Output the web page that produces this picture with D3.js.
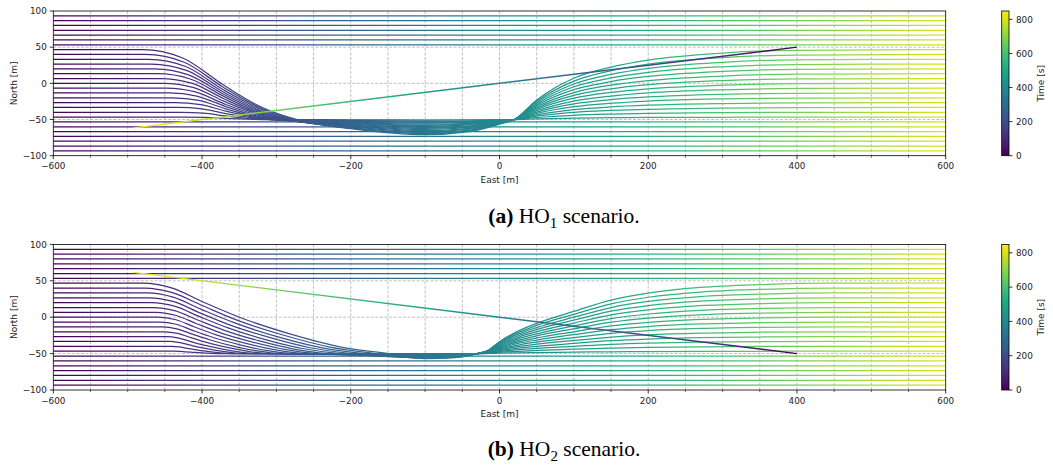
<!DOCTYPE html>
<html><head><meta charset="utf-8">
<script src="https://cdn.jsdelivr.net/npm/d3@7"></script>
<style>body{margin:0;background:#fff}svg{display:block}text{font-family:"DejaVu Sans",sans-serif;fill:#222}</style>
</head><body><svg id="c" width="1053" height="467"></svg>
<script>
// ---------------- data ----------------
const straightLevels = [93.3, 86.7, 80.0, 73.3, 66.7, 60.0, 53.3, -53.3, -60.0, -66.7, -73.3, -80.0, -86.7, -93.3];

// HO1: own-ship trajectories that manoeuvre (East, North) key points
const avoidA = [
 [[-600,46.7],[-480,46.7],[-426,35.1],[-372,-1.7],[-319,-33.6],[-265,-52.1],[-200,-62.6],[-100,-71.0],[-40,-66.8],[0,-56.3],[20,-50],[50,-22.9],[100,7.1],[150,22.5],[200,32.2],[300,41.9],[400,45.7],[600,46.7]],
 [[-600,40],[-476,40],[-424,29.2],[-372,-5],[-320,-34.7],[-268,-52.0],[-200,-61.7],[-100,-69.5],[-40,-65.6],[0,-55.9],[20,-50],[50,-24.8],[100,3.1],[150,17.5],[200,26.5],[300,35.5],[400,39.1],[600,40]],
 [[-600,33.3],[-472,33.3],[-422,23.3],[-372,-8.4],[-321,-35.8],[-271,-51.8],[-200,-60.9],[-100,-68.1],[-40,-64.5],[0,-55.4],[20,-50],[50,-26.7],[100,-0.9],[150,12.5],[200,20.8],[300,29.1],[400,32.5],[600,33.3]],
 [[-600,26.7],[-468,26.7],[-420,17.5],[-372,-11.7],[-323,-37.0],[-275,-51.7],[-200,-60.0],[-100,-66.7],[-40,-63.4],[0,-55.0],[20,-50],[50,-28.5],[100,-4.7],[150,7.5],[200,15.2],[300,22.9],[400,25.9],[600,26.7]],
 [[-600,20],[-464,20],[-418,11.6],[-371,-15],[-324,-38.1],[-278,-51.5],[-200,-59.1],[-100,-65.2],[-40,-62.2],[0,-54.6],[20,-50],[50,-30.4],[100,-8.7],[150,2.5],[200,9.5],[300,16.5],[400,19.3],[600,20]],
 [[-600,13.3],[-460,13.3],[-415,5.7],[-370,-18.4],[-326,-39.2],[-281,-51.4],[-200,-58.2],[-100,-63.7],[-40,-61.0],[0,-54.1],[20,-50],[50,-32.3],[100,-12.7],[150,-2.5],[200,3.8],[300,10.1],[400,12.7],[600,13.3]],
 [[-600,6.7],[-456,6.7],[-413,-0.1],[-370,-21.7],[-327,-40.4],[-284,-51.2],[-200,-57.4],[-100,-62.3],[-40,-59.8],[0,-53.7],[20,-50],[50,-34.1],[100,-16.5],[150,-7.5],[200,-1.8],[300,3.9],[400,6.1],[600,6.7]],
 [[-600,0],[-452,0],[-411,-6],[-370,-25],[-328,-41.5],[-287,-51.1],[-200,-56.5],[-100,-60.9],[-40,-58.7],[0,-53.3],[20,-50],[50,-36],[100,-20.5],[150,-12.5],[200,-7.5],[300,-2.5],[400,-0.5],[600,0]],
 [[-600,-6.7],[-448,-6.7],[-409,-11.9],[-370,-28.4],[-330,-42.6],[-291,-50.9],[-200,-55.6],[-100,-59.4],[-40,-57.5],[0,-52.8],[20,-50],[50,-37.9],[100,-24.5],[150,-17.5],[200,-13.2],[300,-8.9],[400,-7.1],[600,-6.7]],
 [[-600,-13.3],[-444,-13.3],[-407,-17.7],[-369,-31.7],[-332,-43.8],[-294,-50.8],[-200,-54.8],[-100,-58.0],[-40,-56.4],[0,-52.4],[20,-50],[50,-39.7],[100,-28.3],[150,-22.5],[200,-18.8],[300,-15.1],[400,-13.7],[600,-13.3]],
 [[-600,-20],[-440,-20],[-404,-23.6],[-369,-35],[-333,-44.9],[-297,-50.7],[-200,-53.9],[-100,-56.5],[-40,-55.2],[0,-52.0],[20,-50],[50,-41.6],[100,-32.3],[150,-27.5],[200,-24.5],[300,-21.5],[400,-20.3],[600,-20]],
 [[-600,-26.7],[-436,-26.7],[-402,-29.5],[-368,-38.4],[-334,-46.0],[-300,-50.5],[-200,-53.1],[-100,-55.1],[-40,-54.1],[0,-51.5],[20,-50],[50,-43.5],[100,-36.3],[150,-32.5],[200,-30.2],[300,-27.9],[400,-26.9],[600,-26.7]],
 [[-600,-33.3],[-432,-33.3],[-400,-35.3],[-368,-41.7],[-335,-47.2],[-303,-50.4],[-200,-52.2],[-100,-53.6],[-40,-52.9],[0,-51.1],[20,-50],[50,-45.3],[100,-40.1],[150,-37.5],[200,-35.8],[300,-34.1],[400,-33.5],[600,-33.3]],
 [[-600,-40],[-428,-40],[-398,-41.2],[-368,-45],[-337,-48.3],[-307,-50.2],[-200,-51.3],[-100,-52.2],[-40,-51.8],[0,-50.7],[20,-50],[50,-47.2],[100,-44.1],[150,-42.5],[200,-41.5],[300,-40.5],[400,-40.1],[600,-40]],
 [[-600,-46.7],[-424,-46.7],[-396,-47.1],[-367,-48.4],[-339,-49.4],[-310,-50.0],[-200,-50.4],[-100,-50.7],[-40,-50.6],[0,-50.2],[20,-50],[50,-49.1],[100,-48.1],[150,-47.5],[200,-47.2],[300,-46.9],[400,-46.7],[600,-46.7]]
];

// HO2: own-ship trajectories that manoeuvre
const avoidB = [
 [[-600,46.7],[-480,46.7],[-440,39.9],[-398,20.6],[-348,-0.7],[-282,-22.9],[-216,-40.3],[-150,-50],[-100,-57.0],[-60,-55.6],[-30,-50],[-15,-45.2],[0,-33.6],[25,-19.1],[50,-8.4],[100,8.0],[150,23.5],[200,33.2],[270,40.9],[350,44.8],[450,46.7],[600,46.7]],
 [[-600,40],[-477,40],[-440,33.7],[-399,15.7],[-353,-4.1],[-290,-24.8],[-228,-41],[-166,-50],[-100,-56.5],[-60,-55.2],[-30,-50],[-15,-45.5],[0,-34.7],[25,-21.2],[50,-11.3],[100,4.0],[150,18.4],[200,27.4],[270,34.6],[350,38.2],[450,40],[600,40]],
 [[-600,33.3],[-474,33.3],[-439,27.5],[-401,10.8],[-357,-7.5],[-299,-26.7],[-240,-41.7],[-182,-50],[-100,-56.0],[-60,-54.8],[-30,-50],[-15,-45.8],[0,-35.8],[25,-23.3],[50,-14.2],[100,0],[150,13.3],[200,21.6],[270,28.3],[350,31.6],[450,33.3],[600,33.3]],
 [[-600,26.7],[-471,26.7],[-438,21.3],[-403,6.0],[-362,-10.9],[-307,-28.5],[-253,-42.3],[-198,-50],[-100,-55.6],[-60,-54.5],[-30,-50],[-15,-46.2],[0,-37],[25,-25.5],[50,-17],[100,-4],[150,8.3],[200,16],[270,22.1],[350,25.2],[450,26.7],[600,26.7]],
 [[-600,20],[-468,20],[-437,15.1],[-404,1.1],[-366,-14.3],[-316,-30.4],[-265,-43],[-214,-50],[-100,-55.1],[-60,-54.1],[-30,-50],[-15,-46.5],[0,-38.1],[25,-27.6],[50,-19.9],[100,-8],[150,3.2],[200,10.2],[270,15.8],[350,18.6],[450,20],[600,20]],
 [[-600,13.3],[-465,13.3],[-437,8.9],[-406,-3.8],[-371,-17.7],[-324,-32.3],[-277,-43.7],[-230,-50],[-180,-52.3],[-100,-54.6],[-60,-53.7],[-30,-50],[-15,-46.8],[0,-39.2],[25,-29.7],[50,-22.8],[100,-12],[150,-1.9],[200,4.4],[270,9.5],[350,12],[450,13.3],[600,13.3]],
 [[-600,6.7],[-462,6.7],[-436,2.7],[-408,-8.6],[-376,-21.1],[-332,-34.1],[-289,-44.3],[-246,-50],[-180,-52.1],[-100,-54.1],[-60,-53.3],[-30,-50],[-15,-47.2],[0,-40.4],[25,-31.9],[50,-25.6],[100,-16],[150,-6.9],[200,-1.2],[270,3.3],[350,5.6],[450,6.7],[600,6.7]],
 [[-600,0],[-459,0],[-435,-3.5],[-410,-13.5],[-380,-24.5],[-341,-36],[-301,-45],[-262,-50],[-180,-51.8],[-100,-53.6],[-60,-52.9],[-30,-50],[-15,-47.5],[0,-41.5],[25,-34],[50,-28.5],[100,-20],[150,-12],[200,-7],[270,-3],[350,-1],[450,0],[600,0]],
 [[-600,-6.7],[-456,-6.7],[-435,-9.7],[-412,-18.4],[-385,-27.9],[-349,-37.9],[-314,-45.7],[-278,-50],[-180,-51.6],[-100,-53.1],[-60,-52.5],[-30,-50],[-15,-47.8],[0,-42.6],[25,-36.1],[50,-31.4],[100,-24],[150,-17.1],[200,-12.8],[270,-9.3],[350,-7.6],[450,-6.7],[600,-6.7]],
 [[-600,-13.3],[-453,-13.3],[-434,-15.9],[-413,-23.2],[-389,-31.3],[-358,-39.7],[-326,-46.3],[-294,-50],[-180,-51.4],[-100,-52.7],[-60,-52.2],[-30,-50],[-15,-48.2],[0,-43.8],[25,-38.3],[50,-34.2],[100,-28],[150,-22.1],[200,-18.4],[270,-15.5],[350,-14],[450,-13.3],[600,-13.3]],
 [[-600,-20],[-450,-20],[-433,-22.1],[-415,-28.1],[-394,-34.7],[-366,-41.6],[-338,-47],[-310,-50],[-180,-51.1],[-100,-52.2],[-60,-51.8],[-30,-50],[-15,-48.5],[0,-44.9],[25,-40.4],[50,-37.1],[100,-32],[150,-27.2],[200,-24.2],[270,-21.8],[350,-20.6],[450,-20],[600,-20]],
 [[-600,-26.7],[-447,-26.7],[-433,-28.3],[-417,-33.0],[-399,-38.1],[-374,-43.5],[-350,-47.7],[-326,-50],[-180,-50.9],[-100,-51.7],[-60,-51.4],[-30,-50],[-15,-48.8],[0,-46],[25,-42.5],[50,-40],[100,-36],[150,-32.3],[200,-30],[270,-28.1],[350,-27.2],[450,-26.7],[600,-26.7]],
 [[-600,-33.3],[-444,-33.3],[-432,-34.5],[-418,-37.8],[-403,-41.5],[-383,-45.3],[-362,-48.3],[-342,-50],[-180,-50.6],[-100,-51.2],[-60,-51.0],[-30,-50],[-15,-49.2],[0,-47.2],[25,-44.7],[50,-42.8],[100,-40],[150,-37.3],[200,-35.6],[270,-34.3],[350,-33.6],[450,-33.3],[600,-33.3]],
 [[-600,-40],[-441,-40],[-431,-40.7],[-420,-42.7],[-408,-44.9],[-391,-47.2],[-375,-49],[-358,-50],[-180,-50.4],[-100,-50.7],[-60,-50.6],[-30,-50],[-15,-49.5],[0,-48.3],[25,-46.8],[50,-45.7],[100,-44],[150,-42.4],[200,-41.4],[270,-40.6],[350,-40.2],[450,-40],[600,-40]],
 [[-600,-46.7],[-438,-46.7],[-430,-46.9],[-422,-47.6],[-412,-48.3],[-400,-49.1],[-387,-49.7],[-374,-50],[-180,-50.1],[-100,-50.2],[-60,-50.2],[-30,-50],[-15,-49.8],[0,-49.4],[25,-48.9],[50,-48.6],[100,-48],[150,-47.5],[200,-47.2],[270,-46.9],[350,-46.8],[450,-46.7],[600,-46.7]]
];

// other vessel tracks: start point, end point
const intruderA = [[400, 50], [-492, -61.5]];
const intruderB = [[400, -50], [-492, 61.5]];

const eastRange = [-600, 600];
const ownTime = [0, 800];        // time at East = -600 and East = 600
const intruderTime = [0, 849];   // time at start and end of the other vessel track
const timeDomain = [0, 849];

const xMajorTicks = [-600, -400, -200, 0, 200, 400, 600];
const xMinorTicks = [-550, -500, -450, -350, -300, -250, -150, -100, -50, 50, 100, 150, 250, 300, 350, 450, 500, 550];
const yTicks = [-100, -50, 0, 50, 100];
const cbTicks = [0, 200, 400, 600, 800];
const captionTags = ["(a)", "(b)"];
const captionSubs = ["1", "2"];

// ---------------- drawing ----------------
const svg = d3.select("#c");
const defs = svg.append("defs");
const color = d3.scaleSequential(d3.interpolateViridis).domain(timeDomain);
const x = d3.scaleLinear().domain([-600, 600]).range([53.3, 945.7]);
const fmt = d3.format("");

const panels = [
  {top: 11, bottom: 155.7, avoid: avoidA, intruder: intruderA, capBase: 223},
  {top: 244.4, bottom: 390, avoid: avoidB, intruder: intruderB, capBase: 456}
];
const cbX0 = 1001.7, cbX1 = 1009;

panels.forEach((p, i) => {
  const y = d3.scaleLinear().domain([-100, 100]).range([p.bottom, p.top]);
  const g = svg.append("g");

  defs.append("clipPath").attr("id", "clip" + i).append("rect")
    .attr("x", x(-600)).attr("y", p.top).attr("width", x(600) - x(-600)).attr("height", p.bottom - p.top);

  const og = defs.append("linearGradient").attr("id", "own" + i).attr("gradientUnits", "userSpaceOnUse")
    .attr("x1", x(eastRange[0])).attr("x2", x(eastRange[1])).attr("y1", 0).attr("y2", 0);
  d3.range(21).forEach(j => {
    const f = j / 20;
    og.append("stop").attr("offset", f).attr("stop-color", color(ownTime[0] + f * (ownTime[1] - ownTime[0])));
  });
  const s = p.intruder[0], e = p.intruder[1];
  const ig = defs.append("linearGradient").attr("id", "intr" + i).attr("gradientUnits", "userSpaceOnUse")
    .attr("x1", x(s[0])).attr("y1", y(s[1])).attr("x2", x(e[0])).attr("y2", y(e[1]));
  d3.range(21).forEach(j => {
    const f = j / 20;
    ig.append("stop").attr("offset", f).attr("stop-color", color(intruderTime[0] + f * (intruderTime[1] - intruderTime[0])));
  });

  // grid
  const grid = g.append("g").attr("stroke", "#b0b0b0").attr("stroke-width", 0.8).attr("stroke-dasharray", "3,1.6");
  xMajorTicks.concat(xMinorTicks).filter(v => v > -600 && v < 600).forEach(v => {
    grid.append("line").attr("x1", x(v)).attr("x2", x(v)).attr("y1", p.top).attr("y2", p.bottom);
  });
  yTicks.filter(v => v > -100 && v < 100).forEach(v => {
    grid.append("line").attr("x1", x(-600)).attr("x2", x(600)).attr("y1", y(v)).attr("y2", y(v));
  });

  const plot = g.append("g").attr("clip-path", `url(#clip${i})`).attr("fill", "none").attr("stroke-width", 1.25);
  const line = d3.line().x(d => x(d[0])).y(d => y(d[1])).curve(d3.curveMonotoneX);
  straightLevels.forEach(v => {
    plot.append("path").attr("d", line([[eastRange[0], v], [eastRange[1], v]])).attr("stroke", `url(#own${i})`);
  });
  p.avoid.forEach(tr => {
    plot.append("path").attr("d", line(tr)).attr("stroke", `url(#own${i})`);
  });
  plot.append("path").attr("d", d3.line().x(d => x(d[0])).y(d => y(d[1]))(p.intruder))
    .attr("stroke", `url(#intr${i})`).attr("stroke-width", 1.4);

  // spines
  g.append("rect").attr("x", x(-600)).attr("y", p.top).attr("width", x(600) - x(-600)).attr("height", p.bottom - p.top)
    .attr("fill", "none").attr("stroke", "#000").attr("stroke-width", 0.8);

  xMajorTicks.forEach(v => {
    g.append("line").attr("x1", x(v)).attr("x2", x(v)).attr("y1", p.bottom).attr("y2", p.bottom + 3.5).attr("stroke", "#000").attr("stroke-width", 0.8);
    g.append("text").attr("x", x(v)).attr("y", p.bottom + 13.6).attr("text-anchor", "middle").attr("font-size", 8.8)
      .text(fmt(v).replace("-", "\u2212"));
  });
  xMinorTicks.forEach(v => {
    g.append("line").attr("x1", x(v)).attr("x2", x(v)).attr("y1", p.bottom).attr("y2", p.bottom + 2).attr("stroke", "#000").attr("stroke-width", 0.6);
  });
  yTicks.forEach(v => {
    g.append("line").attr("x1", x(-600) - 3.5).attr("x2", x(-600)).attr("y1", y(v)).attr("y2", y(v)).attr("stroke", "#000").attr("stroke-width", 0.8);
    g.append("text").attr("x", x(-600) - 6.5).attr("y", y(v) + 3.2).attr("text-anchor", "end").attr("font-size", 8.8)
      .text(fmt(v).replace("-", "\u2212"));
  });
  g.append("text").attr("x", (x(-600) + x(600)) / 2).attr("y", p.bottom + 26.8).attr("text-anchor", "middle").attr("font-size", 9).text("East [m]");
  g.append("text").attr("transform", `translate(17,${(p.top + p.bottom) / 2}) rotate(-90)`).attr("text-anchor", "middle").attr("font-size", 9).text("North [m]");

  // colorbar
  const cb = d3.scaleLinear().domain(timeDomain).range([p.bottom, p.top]);
  const cg = defs.append("linearGradient").attr("id", "cb" + i).attr("x1", 0).attr("x2", 0).attr("y1", 1).attr("y2", 0);
  d3.range(33).forEach(j => {
    const f = j / 32;
    cg.append("stop").attr("offset", f).attr("stop-color", color(timeDomain[0] + f * (timeDomain[1] - timeDomain[0])));
  });
  g.append("rect").attr("x", cbX0).attr("y", p.top).attr("width", cbX1 - cbX0).attr("height", p.bottom - p.top)
    .attr("fill", `url(#cb${i})`).attr("stroke", "#000").attr("stroke-width", 0.8);
  cbTicks.forEach(v => {
    g.append("line").attr("x1", cbX1).attr("x2", cbX1 + 3.5).attr("y1", cb(v)).attr("y2", cb(v)).attr("stroke", "#000").attr("stroke-width", 0.8);
    g.append("text").attr("x", cbX1 + 7).attr("y", cb(v) + 3.2).attr("font-size", 8.8).text(fmt(v));
  });
  g.append("text").attr("transform", `translate(1044,${(p.top + p.bottom) / 2}) rotate(-90)`).attr("text-anchor", "middle").attr("font-size", 9).text("Time [s]");

  // caption
  const cap = svg.append("text").attr("x", 564).attr("y", p.capBase).attr("text-anchor", "middle")
    .style("font-family", '"Liberation Serif", serif').style("font-size", "21.5px").style("fill", "#000");
  cap.append("tspan").attr("font-weight", "bold").text(captionTags[i]);
  cap.append("tspan").text(" HO");
  cap.append("tspan").attr("dy", 4.5).style("font-size", "15px").text(captionSubs[i]);
  cap.append("tspan").attr("dy", -4.5).text(" scenario.");
});
</script></body></html>
